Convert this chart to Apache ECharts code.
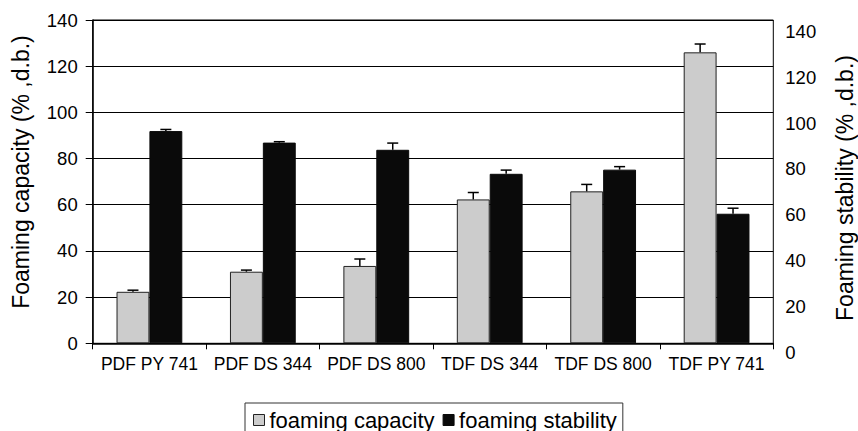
<!DOCTYPE html>
<html>
<head>
<meta charset="utf-8">
<script src="https://cdn.jsdelivr.net/npm/echarts@6/dist/echarts.min.js"></script>
<style>
html,body{margin:0;padding:0;background:#fff;}
#chart{width:858px;height:431px;}
</style>
</head>
<body>
<div id="chart"></div>
<script>
// ---- data ----
const categories = ['PDF PY 741', 'PDF DS 344', 'PDF DS 800', 'TDF DS 344', 'TDF DS 800', 'TDF PY 741'];
const capacity = [22.3, 31.0, 33.5, 62.3, 65.8, 126.0];
const capacityErr = [0.7, 0.7, 3.0, 3.0, 3.0, 3.6];
const stability = [91.9, 86.9, 83.8, 73.4, 75.2, 56.1];
const stabilityErr = [0.7, 0.4, 2.9, 1.6, 1.3, 2.4];
const yTickValues = [0, 20, 40, 60, 80, 100, 120, 140];
const seriesNames = ['foaming capacity', 'foaming stability'];
const leftTitle = 'Foaming capacity (% ,d.b.)';
const rightTitle = 'Foaming stability (% ,d.b.)';

const FONT = '"Liberation Sans", Arial, Helvetica, sans-serif';
const BAR_FRAC = 0.29;

function errorBarRenderer(side) {
  return function (params, api) {
    const i = api.value(0);
    const v = api.value(1);
    const e = api.value(2);
    const band = api.size([1, 0])[0];
    const bw = band * BAR_FRAC;
    const p0 = api.coord([i, v]);
    const p1 = api.coord([i, v + e]);
    const x = p0[0] + side * bw / 2;
    const cap = 5.5;
    return {
      type: 'group',
      children: [
        { type: 'line', shape: { x1: x, y1: p0[1], x2: x, y2: p1[1] }, style: { stroke: '#000', lineWidth: 1.5 } },
        { type: 'line', shape: { x1: x - cap, y1: p1[1], x2: x + cap, y2: p1[1] }, style: { stroke: '#000', lineWidth: 1.5 } }
      ]
    };
  };
}

const chart = echarts.init(document.getElementById('chart'), null, { renderer: 'svg' });
const yMin = yTickValues[0], yMax = yTickValues[yTickValues.length - 1], yStep = yTickValues[1] - yTickValues[0];

chart.setOption({
  animation: false,
  backgroundColor: '#fff',
  textStyle: { fontFamily: FONT, color: '#000' },
  grid: [
    { left: 92.7, right: 84.7, top: 20, bottom: 87.7, show: true, borderColor: '#000', borderWidth: 1, backgroundColor: 'transparent' },
    { left: 92.7, right: 84.7, top: 31.7, bottom: 79, show: false }
  ],
  legend: {
    left: 245,
    top: 403,
    orient: 'horizontal',
    padding: [6, 6, 30, 8],
    borderColor: '#333',
    borderWidth: 1,
    itemWidth: 11,
    itemHeight: 11,
    itemGap: 8,
    icon: 'rect',
    textStyle: { fontFamily: FONT, fontSize: 22, color: '#000' },
    data: [
      { name: seriesNames[0], itemStyle: { color: '#cccccc', borderColor: '#222', borderWidth: 1 } },
      { name: seriesNames[1], itemStyle: { color: '#0a0a0a', borderColor: '#0a0a0a', borderWidth: 1 } }
    ]
  },
  xAxis: [
    {
      type: 'category', gridIndex: 0, data: categories,
      axisLine: { show: true, lineStyle: { color: '#000', width: 1.5 } },
      axisTick: { show: true, length: 6, lineStyle: { color: '#000', width: 1 } },
      axisLabel: { interval: 0, fontFamily: FONT, fontSize: 17.5, color: '#000', margin: 12 },
      splitLine: { show: false }
    },
    { type: 'category', gridIndex: 1, data: categories, show: false }
  ],
  yAxis: [
    {
      type: 'value', gridIndex: 0, position: 'left', min: yMin, max: yMax, interval: yStep,
      axisLine: { show: true, lineStyle: { color: '#000', width: 1.5 } },
      axisTick: { show: true, length: 7, lineStyle: { color: '#000', width: 1 } },
      axisLabel: { fontFamily: FONT, fontSize: 18.5, color: '#000', margin: 15 },
      splitLine: { show: true, lineStyle: { color: '#000', width: 1 } }
    },
    {
      type: 'value', gridIndex: 1, position: 'right', min: yMin, max: yMax, interval: yStep,
      axisLine: { show: false }, axisTick: { show: false }, splitLine: { show: false },
      axisLabel: { fontFamily: FONT, fontSize: 18.5, color: '#000', margin: 12 }
    }
  ],
  graphic: [
    { type: 'text', x: 21, y: 172, rotation: Math.PI / 2,
      style: { text: leftTitle, font: '23px ' + FONT, fill: '#000', align: 'center', verticalAlign: 'middle' } },
    { type: 'text', x: 845, y: 188, rotation: Math.PI / 2,
      style: { text: rightTitle, font: '23px ' + FONT, fill: '#000', align: 'center', verticalAlign: 'middle' } }
  ],
  series: [
    {
      name: seriesNames[0], type: 'bar', xAxisIndex: 0, yAxisIndex: 0,
      data: capacity, barWidth: (BAR_FRAC * 100) + '%', barGap: '0%',
      itemStyle: { color: '#cccccc', borderColor: '#222', borderWidth: 1 }
    },
    {
      name: seriesNames[1], type: 'bar', xAxisIndex: 0, yAxisIndex: 0,
      data: stability, barWidth: (BAR_FRAC * 100) + '%', barGap: '0%',
      itemStyle: { color: '#0a0a0a', borderColor: '#0a0a0a', borderWidth: 1 }
    },
    {
      type: 'custom', name: 'capacity error', xAxisIndex: 0, yAxisIndex: 0, z: 5,
      renderItem: errorBarRenderer(-1),
      encode: { x: 0, y: 1 },
      data: categories.map((c, i) => [i, capacity[i], capacityErr[i]])
    },
    {
      type: 'custom', name: 'stability error', xAxisIndex: 0, yAxisIndex: 0, z: 5,
      renderItem: errorBarRenderer(1),
      encode: { x: 0, y: 1 },
      data: categories.map((c, i) => [i, stability[i], stabilityErr[i]])
    },
    { type: 'bar', xAxisIndex: 1, yAxisIndex: 1, data: [], silent: true }
  ]
});
</script>
</body>
</html>
